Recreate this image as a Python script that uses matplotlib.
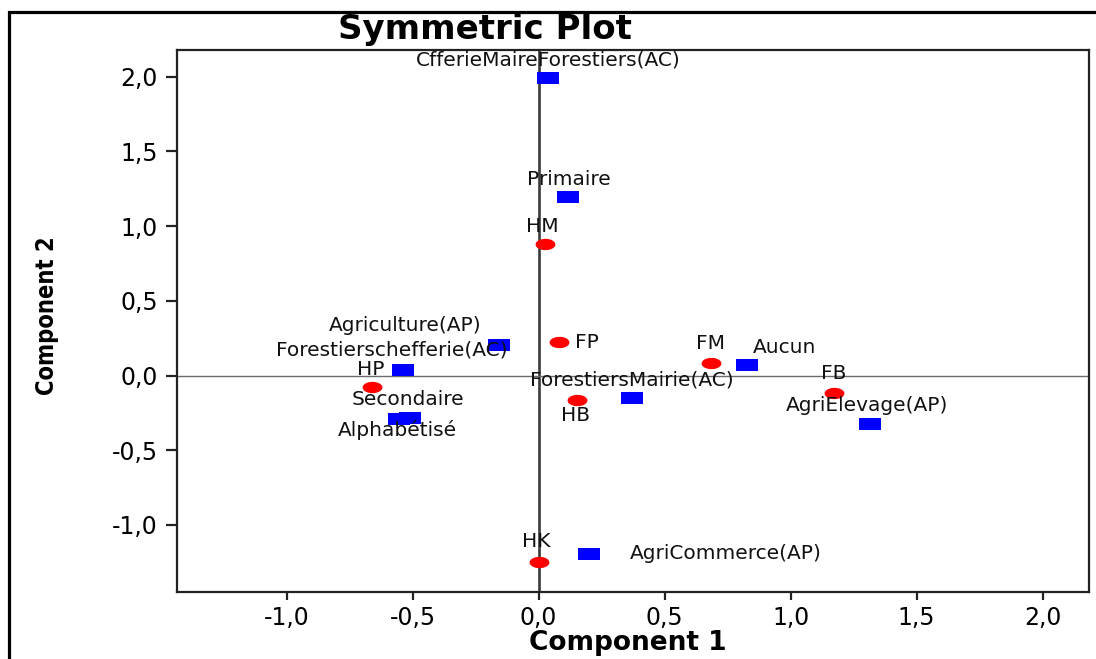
import matplotlib
matplotlib.use("Agg")
import matplotlib.pyplot as plt
import numpy as np
from matplotlib.path import Path
from matplotlib.patches import Rectangle
from matplotlib.ticker import FuncFormatter

# ---- data (column categories, blue squares) ----
col_labels = ["CfferieMaireForestiers(AC)", "Primaire", "Agriculture(AP)",
              "Forestierschefferie(AC)", "Secondaire", "Alphabétisé",
              "ForestiersMairie(AC)", "Aucun", "AgriElevage(AP)", "AgriCommerce(AP)"]
col_x = [0.037, 0.117, -0.156, -0.540, -0.510, -0.553, 0.369, 0.825, 1.315, 0.200]
col_y = [1.993, 1.195, 0.204, 0.039, -0.284, -0.291, -0.153, 0.072, -0.323, -1.195]

# ---- data (row categories, red circles) ----
row_labels = ["HM", "FP", "FM", "FB", "HB", "HP", "HK"]
row_x = [0.024, 0.082, 0.685, 1.172, 0.153, -0.660, 0.000]
row_y = [0.878, 0.224, 0.086, -0.115, -0.164, -0.079, -1.246]

# label placement (pixel offsets from the marker, and horizontal alignment)
col_offsets = [(0, 18, "center"), (1, 18, "center"), (-94, 20, "center"),
               (-11, 20, "center"), (-2, 18, "center"), (-2, -11, "center"),
               (0, 18, "center"), (6, 17, "left"), (-3, 18, "center"),
               (41, 1, "left")]
row_offsets = [(-2, 18, "center"), (16, 0, "left"), (-1, 19, "center"),
               (0, 19, "center"), (-2, -15, "center"), (-2, 18, "center"),
               (-2, 20, "center")]

xticks = [-1.0, -0.5, 0.0, 0.5, 1.0, 1.5, 2.0]
yticks = [-1.0, -0.5, 0.0, 0.5, 1.0, 1.5, 2.0]

W, H = 1096, 659
fig = plt.figure(figsize=(W / 100, H / 100), dpi=100)
fig.patch.set_facecolor("white")

# outer frame (left and top visible, rest cropped)
frame = Rectangle((9 / W, -0.2), 1.5, (1 - 12 / H) + 0.2, transform=fig.transFigure,
                  fill=False, edgecolor="black", linewidth=2.3, clip_on=False)
fig.patches.append(frame)

ax = fig.add_axes([177.3 / W, 1 - 591.7 / H, (1089.3 - 177.3) / W, (591.7 - 50) / H])
ax.set_xlim(-1.434, 2.185)
ax.set_ylim(-1.447, 2.179)

ax.axvline(0, color="#3a3a3a", lw=1.9, zorder=1)
ax.axhline(0, color="#6a6a6a", lw=1.0, zorder=1)

rect = Path([(-1.0, -0.55), (1.0, -0.55), (1.0, 0.55), (-1.0, 0.55), (-1.0, -0.55)],
            [Path.MOVETO, Path.LINETO, Path.LINETO, Path.LINETO, Path.CLOSEPOLY])
th = np.linspace(0, 2 * np.pi, 40)
ell = Path(np.column_stack([np.cos(th), 0.57 * np.sin(th)]), closed=True)

ax.plot(col_x, col_y, linestyle="none", marker=rect, markersize=15.3,
        color="#0000ff", markeredgewidth=0, zorder=3)
ax.plot(row_x, row_y, linestyle="none", marker=ell, markersize=14.3,
        color="#ff0000", markeredgewidth=0, zorder=3)

lab_fs = 14.5
for lbl, x, y, (dx, dy, ha) in zip(col_labels, col_x, col_y, col_offsets):
    ax.annotate(lbl, (x, y), xytext=(dx, dy), textcoords="offset pixels",
                ha=ha, va="center", fontsize=lab_fs, color="#111111", zorder=4)
for lbl, x, y, (dx, dy, ha) in zip(row_labels, row_x, row_y, row_offsets):
    ax.annotate(lbl, (x, y), xytext=(dx, dy), textcoords="offset pixels",
                ha=ha, va="center", fontsize=lab_fs, color="#111111", zorder=4)

fmt = FuncFormatter(lambda v, p: f"{v:.1f}".replace(".", ","))
ax.set_xticks(xticks)
ax.set_yticks(yticks)
ax.xaxis.set_major_formatter(fmt)
ax.yaxis.set_major_formatter(fmt)
ax.tick_params(axis="x", direction="out", length=6, width=1.6, pad=4,
               labelsize=17, color="#222222")
ax.tick_params(axis="y", direction="out", length=8, width=1.6, pad=6,
               labelsize=17, color="#222222")
for s in ax.spines.values():
    s.set_linewidth(1.6)
    s.set_color("#222222")

fig.text(485 / W, 1 - 30 / H, "Symmetric Plot", ha="center", va="center",
         fontsize=24.5, fontweight="bold")
fig.text(628 / W, 1 - 643 / H, "Component 1", ha="center", va="center",
         fontsize=19, fontweight="bold")
fig.text(47 / W, 1 - 316 / H, "Component 2", ha="center", va="center",
         rotation=90, fontsize=17, fontweight="bold", fontstretch="condensed")

fig.savefig("out.png", dpi=100)
